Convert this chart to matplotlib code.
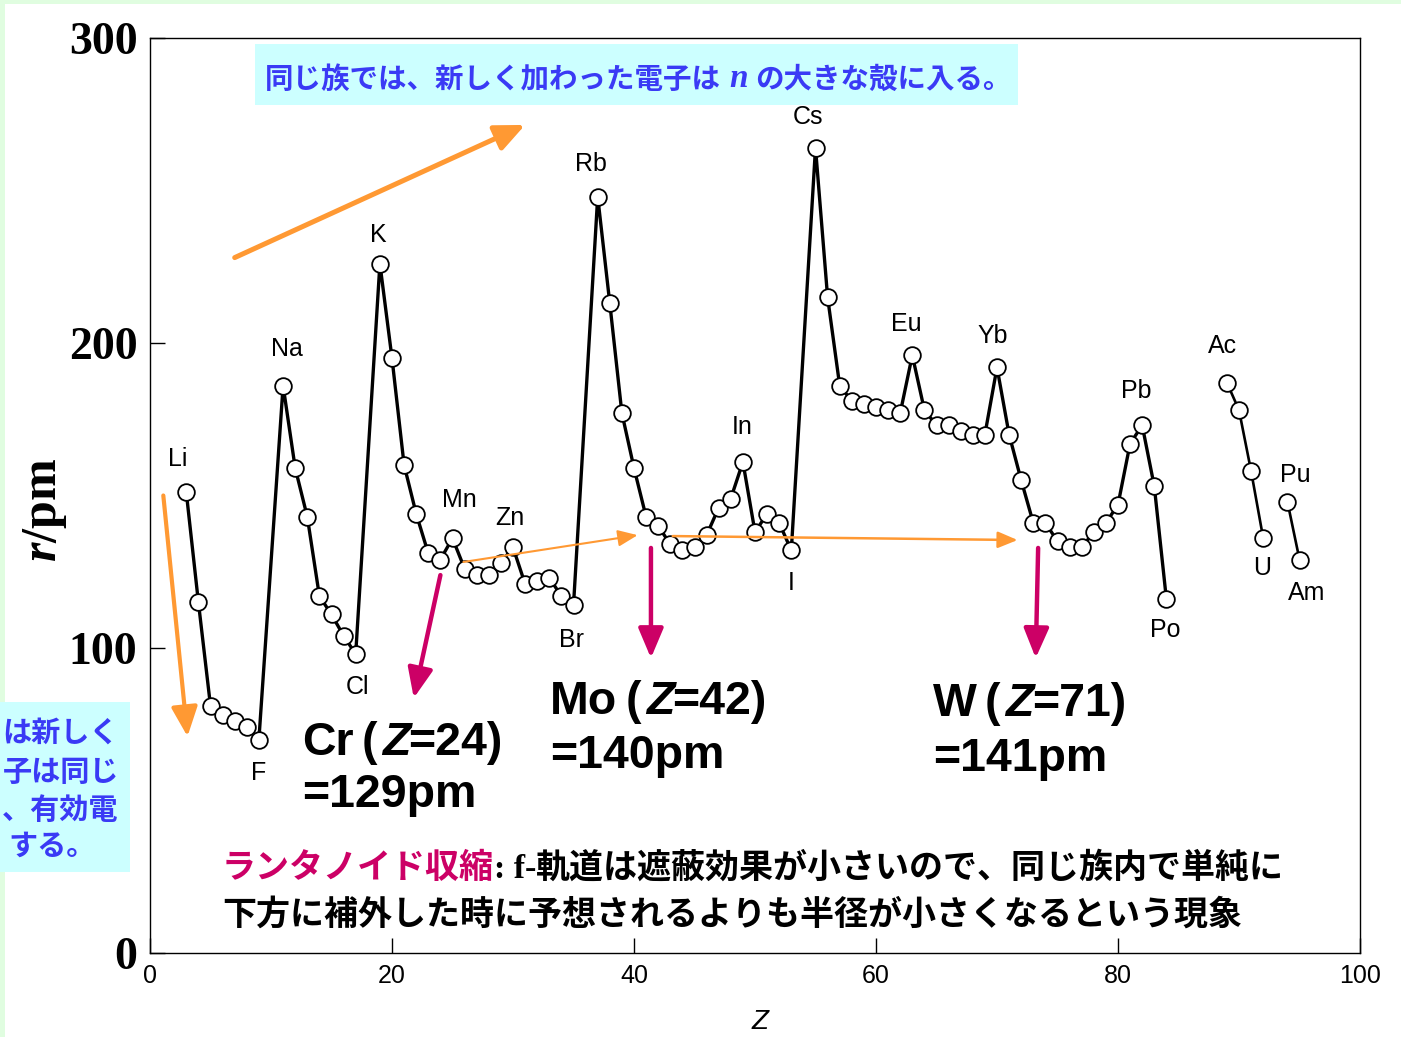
import matplotlib
matplotlib.use("Agg")
import matplotlib.pyplot as plt
import matplotlib.transforms as mtransforms
from matplotlib.patches import Rectangle

# atomic radius r (pm) against atomic number Z, noble gases left out
z_main = [3, 4, 5, 6, 7, 8, 9,
          11, 12, 13, 14, 15, 16, 17,
          19, 20, 21, 22, 23, 24, 25, 26, 27, 28, 29, 30, 31, 32, 33, 34, 35,
          37, 38, 39, 40, 41, 42, 43, 44, 45, 46, 47, 48, 49, 50, 51, 52, 53,
          55, 56, 57, 58, 59, 60, 61, 62, 63, 64, 65, 66, 67, 68, 69, 70,
          71, 72, 73, 74, 75, 76, 77, 78, 79, 80, 81, 82, 83, 84]
r_main = [151, 115, 81, 78, 76, 74, 70,
          186, 159, 143, 117, 111, 104, 98,
          226, 195, 160, 144, 131, 129, 136, 126, 124, 124, 128, 133, 121, 122, 123, 117, 114,
          248, 213, 177, 159, 143, 140, 134, 132, 133, 137, 146, 149, 161, 138, 144, 141, 132,
          264, 215, 186, 181, 180, 179, 178, 177, 196, 178, 173, 173, 171, 170, 170, 192,
          170, 155, 141, 141, 135, 133, 133, 138, 141, 147, 167, 173, 153, 116]

# actinides (Np missing)
z_act1 = [89, 90, 91, 92]
r_act1 = [187, 178, 158, 136]
z_act2 = [94, 95]
r_act2 = [148, 129]

label_names = ["Li", "F", "Na", "Cl", "K", "Mn", "Zn", "Br", "Rb", "In",
               "I", "Cs", "Eu", "Yb", "Pb", "Po", "Ac", "U", "Pu", "Am"]
label_z = [3, 9, 11, 17, 19, 25, 30, 35, 37, 49,
           53, 55, 63, 70, 82, 84, 89, 92, 94, 95]

# elements called out with their radius
hl_names = ["Cr", "Mo", "W"]
hl_z = [24, 42, 74]
hl_ztext = ["24", "42", "71"]

r_of = dict(zip(z_main + z_act1 + z_act2, r_main + r_act1 + r_act2))

W_PX, H_PX = 1401, 1037
JP = "Noto Sans CJK JP"
SANS = "Liberation Sans"
SERIF = "Liberation Serif"
ORANGE = "#ff9933"
MAGENTA = "#cc0066"
BLUE = "#3a3af5"
CYAN = "#ccffff"

plt.rcParams["mathtext.fontset"] = "custom"
plt.rcParams["mathtext.it"] = "Liberation Serif:italic:bold"
plt.rcParams["mathtext.rm"] = "Liberation Serif:bold"

fig = plt.figure(figsize=(W_PX / 100, H_PX / 100), dpi=100, facecolor="#e0fde0")
# pixel coordinates measured from the top-left corner
px = mtransforms.Affine2D().scale(1 / W_PX, -1 / H_PX).translate(0, 1) + fig.transFigure

fig.add_artist(Rectangle((5, 4), W_PX, H_PX, transform=px, facecolor="white",
                         edgecolor="none", zorder=-5))

ax = fig.add_axes([150 / W_PX, 1 - 953 / H_PX, 1210 / W_PX, 915 / H_PX])
ax.set_facecolor("none")
ax.set_xlim(0, 100)
ax.set_ylim(0, 300)
ax.set_xticks([0, 20, 40, 60, 80, 100])
ax.set_yticks([0, 100, 200, 300])
ax.tick_params(axis="both", direction="in", length=11, width=1.0)
ax.tick_params(axis="x", pad=8, labelsize=18)
ax.tick_params(axis="y", pad=9, labelsize=33)
for lab in ax.get_yticklabels():
    lab.set_fontfamily(SERIF)
    lab.set_fontweight("bold")
for lab in ax.get_xticklabels():
    lab.set_fontfamily(SANS)
for s in ax.spines.values():
    s.set_linewidth(1.0)

fig.text(45 / W_PX, 1 - 510 / H_PX, "$r$/pm", rotation=90, ha="center", va="center",
         family=SERIF, weight="bold", size=36)
fig.text(760 / W_PX, 1 - 1022 / H_PX, "Z", ha="center", va="center",
         family=SANS, style="italic", size=20)

line_kw = dict(color="black", marker="o", ms=12, mfc="white", mec="black", mew=1.3, zorder=4)
ax.plot(z_main, r_main, lw=2.4, **line_kw)
ax.plot(z_act1, r_act1, lw=1.9, **line_kw)
ax.plot(z_act2, r_act2, lw=1.9, **line_kw)

# element symbols next to their points (offsets in pixels)
label_offsets = [(-9, 33), (0, -34), (4, 37), (2, -33), (-2, 29), (7, 38), (-3, 29),
                 (-2, -35), (-7, 33), (-1, 35), (0, -33), (-7, 31), (-6, 31), (-4, 31),
                 (-6, 34), (-1, -31), (-4, 37), (-1, -30), (8, 27), (7, -33)]
for name, z, off in zip(label_names, label_z, label_offsets):
    ax.annotate(name, xy=(z, r_of[z]), xytext=off, textcoords="offset pixels",
                ha="center", va="center", family=SANS, size=18)


def arrow(tail, tip, color, lw, hl, hw):
    ax.annotate("", xy=tip, xytext=tail, zorder=5,
                arrowprops=dict(arrowstyle=f"-|>,head_length={hl},head_width={hw}",
                                color=color, lw=lw, mutation_scale=20,
                                shrinkA=0, shrinkB=0))


arrow((7.0, 228), (31.0, 271.5), ORANGE, 3.6, 0.9, 0.4)
arrow((1.1, 150), (3.1, 71), ORANGE, 3.0, 0.9, 0.4)
arrow((25.9, 128.2), (40.3, 137.0), ORANGE, 1.5, 0.6, 0.25)
arrow((43.2, 136.7), (71.7, 135.4), ORANGE, 1.8, 0.6, 0.25)
arrow((24.0, 123.9), (21.8, 83.6), MAGENTA, 3.2, 0.9, 0.38)
arrow((41.4, 132.8), (41.4, 96.7), MAGENTA, 3.2, 0.9, 0.38)
arrow((73.4, 132.8), (73.2, 96.7), MAGENTA, 3.2, 0.9, 0.38)


def pieces_text(x, y, pieces):
    # string together differently styled pieces on one baseline
    first, _, kw = pieces[0]
    t = ax.text(x, y, first, transform=px, ha="left", va="baseline", **kw)
    for s, gap, kw in pieces[1:]:
        t = ax.annotate(s, xy=(1, 0), xycoords=t, xytext=(gap, 0),
                        textcoords="offset pixels", ha="left", va="bottom", **kw)
    return t


big = dict(family=SANS, weight="bold", size=33.5, color="black")
big_it = dict(big, style="italic")
hl_pos = [(302, 755, 807), (550, 714, 768), (933, 716, 771)]
for name, z, zt, (x, y1, y2) in zip(hl_names, hl_z, hl_ztext, hl_pos):
    pieces_text(x, y1, [(name, 0, big), ("(", 8, big), ("Z", 5, big_it), (f"={zt})", -2, big)])
    ax.text(x, y2, f"={r_of[z]}pm", transform=px, ha="left", va="baseline", **big)

# group trend note at the top
fig.add_artist(Rectangle((255, 44), 763, 61, transform=px, facecolor=CYAN,
                         edgecolor="none", zorder=-1))
note = dict(family=JP, weight="bold", size=20.5, color=BLUE)
pieces_text(265, 88, [("同じ族では、新しく加わった電子は", 0, note),
                      ("n", 8, dict(family=SERIF, style="italic", weight="bold",
                                    size=24, color=BLUE)),
                      ("の大きな殻に入る。", 8, note)])

# period trend note on the left edge
fig.add_artist(Rectangle((0, 702), 130, 170, transform=px, facecolor=CYAN,
                         edgecolor="none", zorder=-1))
left_lines = ["は新しく", "子は同じ", "、有効電", "する。"]
left_starts = [2, 3, 2, 8]
left_bases = [742, 781, 819, 855]
for s, xs, yb in zip(left_lines, left_starts, left_bases):
    ax.text(xs, yb, s, transform=px, ha="left", va="baseline", family=JP,
            weight="bold", size=21, color=BLUE)

# lanthanide contraction
body = dict(family=JP, weight="bold", size=24.5, color="black")
pieces_text(222, 878, [("ランタノイド収縮", 0, dict(body, color=MAGENTA)),
                       (": f-", 0, dict(family=SERIF, weight="bold", size=24.5, color="black")),
                       ("軌道は遮蔽効果が小さいので、同じ族内で単純に", 0, body)])
ax.text(222, 925, "下方に補外した時に予想されるよりも半径が小さくなるという現象",
        transform=px, ha="left", va="baseline", **body)

fig.savefig("out.png", dpi=100, facecolor=fig.get_facecolor())
